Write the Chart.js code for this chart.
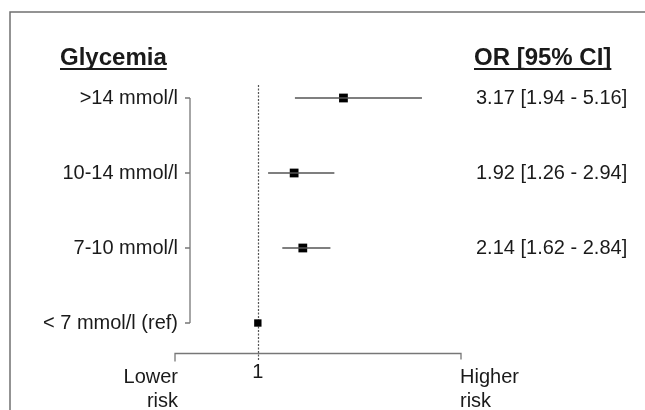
<!DOCTYPE html>
<html>
<head>
<meta charset="utf-8">
<script src="https://cdn.jsdelivr.net/npm/chart.js"></script>
<style>
  html, body { margin: 0; padding: 0; background: #fff; }
  #forest { display: block; }
</style>
</head>
<body>
<canvas id="forest" width="645" height="410"></canvas>
<script>
// data
const groups = ['>14 mmol/l', '10-14 mmol/l', '7-10 mmol/l', '< 7 mmol/l (ref)'];
const rowPos = [3, 2, 1, 0];
const oddsRatio = [3.17, 1.92, 2.14, 1];
const ciLower = [1.94, 1.26, 1.62, null];
const ciUpper = [5.16, 2.94, 2.84, null];
const markerSize = [6.2, 6.2, 6.2, 5.2];
const refValue = 1;
const xRange = [-1.1, 6.15];
const axisEnds = [['Lower', 'risk'], ['Higher', 'risk']];
const headers = ['Glycemia', 'OR [95% CI]'];

const FONT = '"Liberation Sans", Arial, sans-serif';
const fmt = v => v.toFixed(2);

// one little line per confidence interval
const ciSets = rowPos.map((y, i) => ciLower[i] == null ? null : {
  type: 'line',
  data: [{ x: ciLower[i], y }, { x: ciUpper[i], y }],
  borderColor: '#555',
  borderWidth: 1.3,
  pointRadius: 0,
  showLine: true
}).filter(Boolean);

const forestPlugin = {
  id: 'forestDecor',
  beforeDatasetsDraw(chart) {
    const { ctx, chartArea, scales: { x, y } } = chart;
    ctx.save();

    // frame
    ctx.strokeStyle = '#707070';
    ctx.lineWidth = 1.5;
    ctx.beginPath();
    ctx.moveTo(10, 410);
    ctx.lineTo(10, 12);
    ctx.lineTo(645, 12);
    ctx.stroke();

    // reference line at OR = 1
    const xr = Math.round(x.getPixelForValue(refValue)) + 0.5;
    ctx.strokeStyle = '#555';
    ctx.lineWidth = 1.2;
    ctx.setLineDash([2, 1.5]);
    ctx.beginPath();
    ctx.moveTo(xr, chartArea.top + 2);
    ctx.lineTo(xr, chartArea.bottom + 7);
    ctx.stroke();
    ctx.setLineDash([]);

    // x axis with end ticks
    const x0 = x.getPixelForValue(xRange[0]);
    const x1 = x.getPixelForValue(xRange[1]);
    const yb = chartArea.bottom + 0.5;
    ctx.strokeStyle = '#777';
    ctx.lineWidth = 1.3;
    ctx.beginPath();
    ctx.moveTo(x0, yb + 8);
    ctx.lineTo(x0, yb);
    ctx.lineTo(x1, yb);
    ctx.lineTo(x1, yb + 6);
    ctx.stroke();

    // bracket on the left
    const bx = x0 + 15;
    const yTop = y.getPixelForValue(rowPos[0]);
    const yBot = y.getPixelForValue(rowPos[rowPos.length - 1]);
    ctx.beginPath();
    ctx.moveTo(bx, yTop);
    ctx.lineTo(bx, yBot);
    rowPos.forEach(r => {
      const py = y.getPixelForValue(r);
      ctx.moveTo(bx - 5, py);
      ctx.lineTo(bx, py);
    });
    ctx.stroke();
    ctx.restore();
  },
  afterDraw(chart) {
    const { ctx, chartArea, scales: { x, y } } = chart;
    const x0 = x.getPixelForValue(xRange[0]);
    const x1 = x.getPixelForValue(xRange[1]);
    ctx.save();
    ctx.fillStyle = '#1a1a1a';

    // column headers, bold + underlined
    ctx.font = 'bold 24px ' + FONT;
    ctx.textBaseline = 'alphabetic';
    ctx.textAlign = 'left';
    [[60, headers[0]], [474, headers[1]]].forEach(([hx, txt]) => {
      ctx.fillText(txt, hx, 65);
      const w = ctx.measureText(txt).width;
      ctx.fillRect(hx, 68, w, 2);
    });

    // group labels and OR text
    ctx.font = '20px ' + FONT;
    ctx.textBaseline = 'middle';
    rowPos.forEach((r, i) => {
      const py = y.getPixelForValue(r);
      ctx.textAlign = 'right';
      ctx.fillText(groups[i], x0 + 3, py);
      if (ciLower[i] != null) {
        ctx.textAlign = 'left';
        ctx.fillText(`${fmt(oddsRatio[i])} [${fmt(ciLower[i])} - ${fmt(ciUpper[i])}]`, 476, py);
      }
    });

    // x axis labels
    ctx.textBaseline = 'alphabetic';
    ctx.textAlign = 'center';
    ctx.fillText(String(refValue), x.getPixelForValue(refValue), chartArea.bottom + 25);
    ctx.textAlign = 'right';
    axisEnds[0].forEach((t, k) => ctx.fillText(t, x0 + 3, chartArea.bottom + 30 + k * 24));
    ctx.textAlign = 'left';
    axisEnds[1].forEach((t, k) => ctx.fillText(t, x1 - 1, chartArea.bottom + 30 + k * 24));
    ctx.restore();
  }
};

new Chart(document.getElementById('forest'), {
  type: 'scatter',
  data: {
    datasets: [
      ...ciSets,
      {
        type: 'scatter',
        data: rowPos.map((y, i) => ({ x: oddsRatio[i], y })),
        pointStyle: 'rect',
        pointRadius: markerSize,
        backgroundColor: '#000',
        borderColor: '#000',
        borderWidth: 0
      }
    ]
  },
  options: {
    responsive: false,
    animation: false,
    layout: { padding: { left: 175, right: 184, top: 83, bottom: 57 } },
    scales: {
      x: { type: 'linear', min: xRange[0], max: xRange[1], display: false },
      y: { type: 'linear', min: -0.4, max: 3.2, display: false }
    },
    plugins: {
      legend: { display: false },
      tooltip: { enabled: false }
    }
  },
  plugins: [forestPlugin]
});
</script>
</body>
</html>
